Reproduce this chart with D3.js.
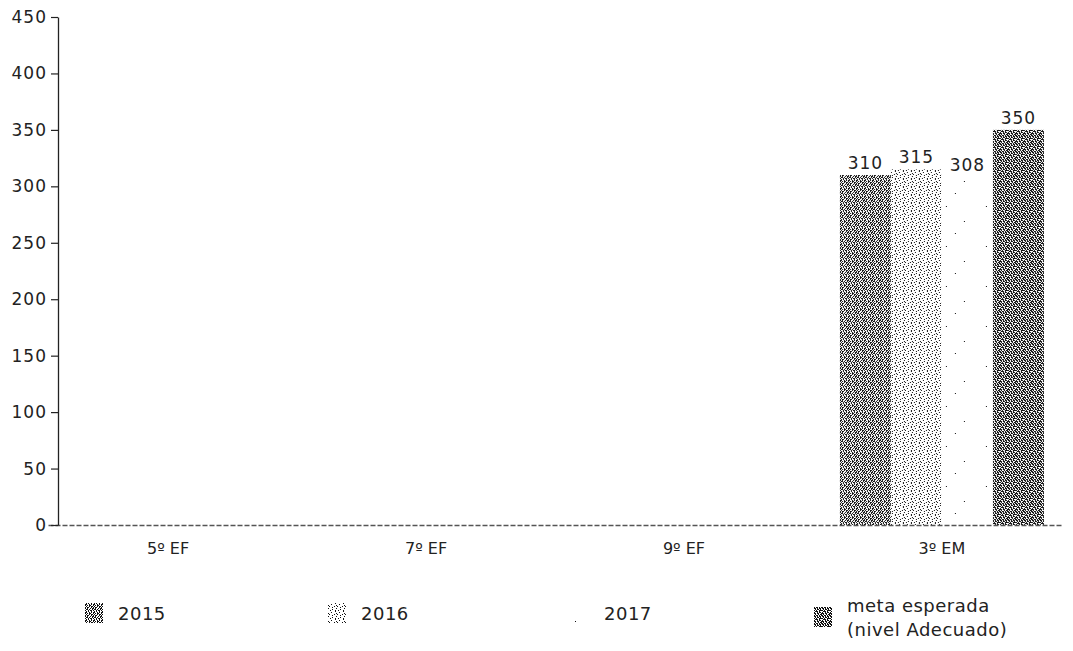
<!DOCTYPE html>
<html>
<head>
<meta charset="utf-8">
<script src="https://cdn.jsdelivr.net/npm/d3@7/dist/d3.min.js"></script>
<style>
  html, body { margin: 0; padding: 0; background: #fff; }
  svg { display: block; }
  text { font-family: "DejaVu Sans", "Liberation Sans", sans-serif; fill: #222; }
</style>
</head>
<body>
<svg id="chart" width="1073" height="651"></svg>
<script>
// Grade levels on the x axis
const categories = ["5º EF", "7º EF", "9º EF", "3º EM"];

// One value per grade for each series
const series = ["2015", "2016", "2017", "meta"];
const values2015 = [0, 0, 0, 310];
const values2016 = [0, 0, 0, 315];
const values2017 = [0, 0, 0, 308];
const valuesMeta = [0, 0, 0, 350];

// Legend labels (one line per entry)
const legendLabels = [["2015"], ["2016"], ["2017"], ["meta esperada", "(nivel Adecuado)"]];

// Y axis tick values
const yTicks = [0, 50, 100, 150, 200, 250, 300, 350, 400, 450];

const seriesValues = { "2015": values2015, "2016": values2016, "2017": values2017, "meta": valuesMeta };

const svg = d3.select("#chart");

// Stipple textures, one per series, each tile written as rows of pixels
const textures = {
  "2015": ["#.#..#.#",
           ".##.#..#",
           "#..#.##.",
           ".#.#..#.",
           "##..#.#.",
           "#.#.##..",
           ".#..#.##",
           "#.##..#."],
  "2016": ["#.......",
           "....#...",
           "..#....#",
           ".......#",
           "...#....",
           "#.......",
           ".#....#.",
           "....#..."],
  "meta": ["##.#.##.",
           ".#.##.#.",
           "#.#..###",
           ".###.#..",
           "#..#.##.",
           "##.##..#",
           ".#..#.##",
           "#.##.#.#"]
};
// 2017 is almost blank: a few isolated dots on a large tile
textures["2017"] = d3.range(40).map(r =>
  r === 6 ? "..........................#............." :
  r === 21 ? "....#..................................." :
  r === 33 ? "...................................#...." :
  "........................................");

const defs = svg.append("defs");
series.forEach(s => {
  const rows = textures[s];
  const w = rows[0].length, h = rows.length;
  const p = defs.append("pattern")
    .attr("id", "tex-" + s)
    .attr("patternUnits", "userSpaceOnUse")
    .attr("width", w).attr("height", h);
  p.append("rect").attr("width", w).attr("height", h).attr("fill", "#fff");
  rows.forEach((row, yi) => {
    row.split("").forEach((c, xi) => {
      if (c === "#") p.append("rect").attr("x", xi).attr("y", yi)
        .attr("width", 1).attr("height", 1).attr("fill", "#111");
    });
  });
});

// Scales
const x0 = d3.scaleBand()
  .domain(categories)
  .range([48, 1062])
  .paddingInner(0.209)
  .paddingOuter(0.07);

const x1 = d3.scaleBand()
  .domain(series)
  .range([0, x0.bandwidth()])
  .padding(0);

const y = d3.scaleLinear().domain([0, 450]).range([525, 17]);

// Bars
const groups = svg.append("g").selectAll("g")
  .data(categories)
  .join("g")
  .attr("transform", d => `translate(${x0(d)},0)`);

groups.selectAll("rect")
  .data((d, i) => series.map(s => ({ s, v: seriesValues[s][i] })))
  .join("rect")
  .attr("x", d => x1(d.s))
  .attr("width", x1.bandwidth())
  .attr("y", d => y(d.v))
  .attr("height", d => y(0) - y(d.v))
  .attr("fill", d => `url(#tex-${d.s})`);

// Value labels above each bar
groups.selectAll("text.val")
  .data((d, i) => series.map(s => ({ s, v: seriesValues[s][i] })).filter(d => d.v > 0))
  .join("text")
  .attr("class", "val")
  .attr("x", d => x1(d.s) + x1.bandwidth() / 2)
  .attr("y", d => y(d.v) - 6)
  .attr("text-anchor", "middle")
  .style("font-size", "17px")
  .style("letter-spacing", "1px")
  .text(d => d.v);

// X axis (baseline + category labels)
const xAxis = svg.append("g")
  .attr("transform", `translate(0,${y(0)})`)
  .call(d3.axisBottom(x0).tickSize(0).tickPadding(18).tickSizeOuter(0));
xAxis.select(".domain")
  .attr("stroke", "#555")
  .attr("stroke-width", 1.5)
  .attr("stroke-dasharray", "5 2");
xAxis.selectAll("text")
  .style("font-size", "16px")
  .style("font-family", "'DejaVu Sans', sans-serif")
  .attr("fill", "#222");

// Y axis
const yAxis = svg.append("g")
  .attr("transform", "translate(58,0)")
  .call(d3.axisLeft(y).tickValues(yTicks).tickSize(7).tickPadding(4).tickSizeOuter(0));
yAxis.select(".domain").attr("stroke", "#222").attr("stroke-width", 1.3);
yAxis.selectAll(".tick line").attr("stroke", "#222").attr("stroke-width", 1.2);
yAxis.selectAll("text")
  .style("font-size", "17px")
  .style("font-family", "'DejaVu Sans', sans-serif")
  .style("letter-spacing", "1px")
  .attr("fill", "#222");

// Legend: four evenly spaced entries along the bottom
const legendStart = 85, legendStep = 243;
const legend = svg.append("g").selectAll("g")
  .data(series)
  .join("g")
  .attr("transform", (d, i) => `translate(${legendStart + i * legendStep},0)`);

legend.append("rect")
  .attr("x", 0)
  .attr("y", (d, i) => legendLabels[i].length > 1 ? 607 : 603)
  .attr("width", 18).attr("height", 20)
  .attr("fill", d => `url(#tex-${d})`);

legend.each(function (d, i) {
  const lines = legendLabels[i];
  const t = d3.select(this).append("text")
    .style("font-size", "18px")
    .style("letter-spacing", "0.5px");
  lines.forEach((ln, k) => {
    t.append("tspan")
      .attr("x", 33)
      .attr("y", lines.length > 1 ? 612 + k * 24 : 620)
      .text(ln);
  });
});
</script>
</body>
</html>
